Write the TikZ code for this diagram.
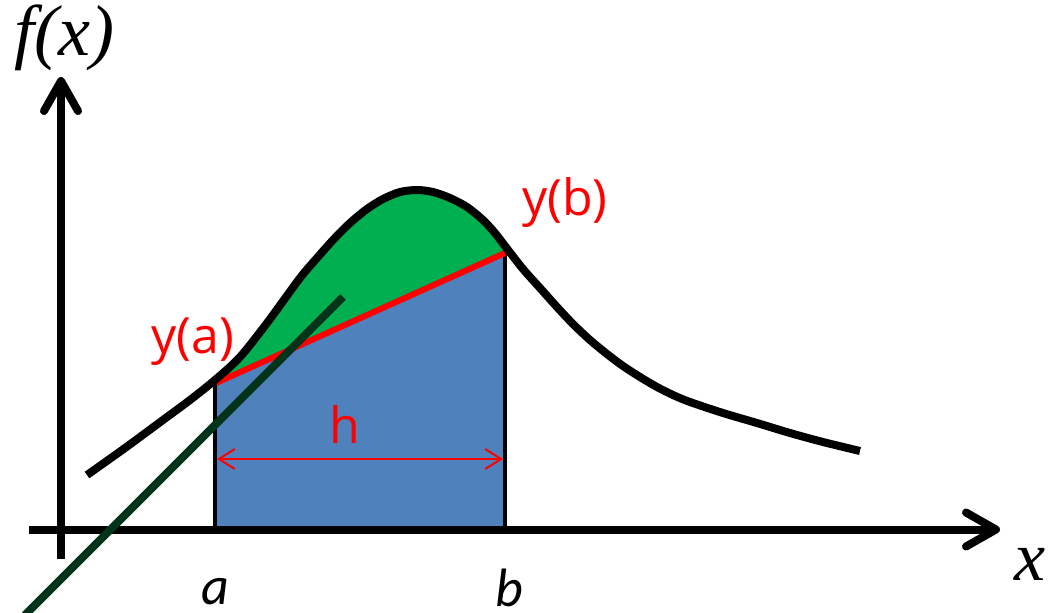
\documentclass[tikz,border=0pt]{standalone}
\usepackage{fontspec}
\setmainfont{Liberation Serif}
\newfontfamily\calfont{Carlito}
\newfontfamily\labfont{Open Sans}
\usetikzlibrary{arrows.meta}
\definecolor{areagreen}{HTML}{00B050}
\definecolor{areablue}{HTML}{4F81BD}
\definecolor{tangent}{RGB}{3,52,26}
\tikzset{
  axisline/.style={line width=8pt, -{Straight Barb[round,length=30pt,width=34pt]}},
  curveline/.style={line width=8pt},
  sideline/.style={line width=4pt},
  chordline/.style={red, line width=6pt},
  widtharrow/.style={red, line width=2pt, {Straight Barb[length=16pt,width=20pt]}-{Straight Barb[length=16pt,width=20pt]}},
  tangentline/.style={tangent, line width=8pt},
  redlabel/.style={red, inner sep=0pt, anchor=base, font=\labfont\fontsize{50}{56}\selectfont},
  axislabel/.style={inner sep=0pt, anchor=base},
}
\begin{document}
\begin{tikzpicture}[x=1pt,y=-1pt]
\useasboundingbox (0,0) rectangle (1061,613);
\def\curvepts{(87,475) (125,448) (163,420) (190,400) (215,380) (240,357) (267,323) (300,278) (317,258) (333,240) (350,223) (367,209) (383,199) (400,192) (417,190) (433,192) (450,198) (467,207) (483,220) (495,233) (505,246) (523,269) (540,288) (557,307) (573,324) (590,340) (607,354) (623,366) (640,377) (657,387) (673,395) (690,402) (723,413) (757,423) (790,433) (823,442) (860,451)}
% green area under the curve between a and b
\begin{scope}
  \clip (215,0) rectangle (505,529);
  \fill[areagreen] plot[smooth,tension=0.5] coordinates {\curvepts} -- (860,529) -- (87,529) -- cycle;
\end{scope}
% coordinates
\coordinate (ya) at (216,383);
\coordinate (yb) at (505,253);
\coordinate (a0) at (215,529);
\coordinate (b0) at (505,529);
\coordinate (atop) at (215,381);
\coordinate (btop) at (505,248);
% trapezoid
\fill[areablue] (ya) -- (yb) -- (b0) -- (a0) -- cycle;
\draw[sideline] (atop) -- (a0);
\draw[sideline] (btop) -- (b0);
% width arrow
\coordinate (hl) at (217,459);
\coordinate (hr) at (503,459);
\draw[widtharrow] (hl) -- (hr);
% chord
\draw[chordline] (ya) -- (yb);
% axes
\coordinate (xs) at (29,529.5);
\coordinate (xe) at (1000,529.5);
\coordinate (ys) at (61,559);
\coordinate (ye) at (61,77);
\draw[axisline] (xs) -- (xe);
\draw[axisline] (ys) -- (ye);
% curve
\draw[curveline] plot[smooth,tension=0.5] coordinates {\curvepts};
% tangent-like line
\coordinate (ts) at (25,615);
\coordinate (te) at (343,297);
\draw[tangentline] (ts) -- (te);
% labels
\node[axislabel, font=\itshape\fontsize{72}{76}\selectfont] (fx) at (64,55) {f(x)};
\node[axislabel, font=\itshape\fontsize{70}{74}\selectfont] (xl) at (1030,580) {x};
\node[axislabel, font=\calfont\itshape\fontsize{54}{60}\selectfont] (al) at (215,604) {a};
\node[axislabel, font=\calfont\itshape\fontsize{54}{60}\selectfont] (bl) at (509,606) {b};
\node[redlabel] (yal) at (193,353) {y(a)};
\node[redlabel] (ybl) at (565,215) {y(b)};
\node[redlabel] (hlab) at (345,443) {h};
\end{tikzpicture}
\end{document}
